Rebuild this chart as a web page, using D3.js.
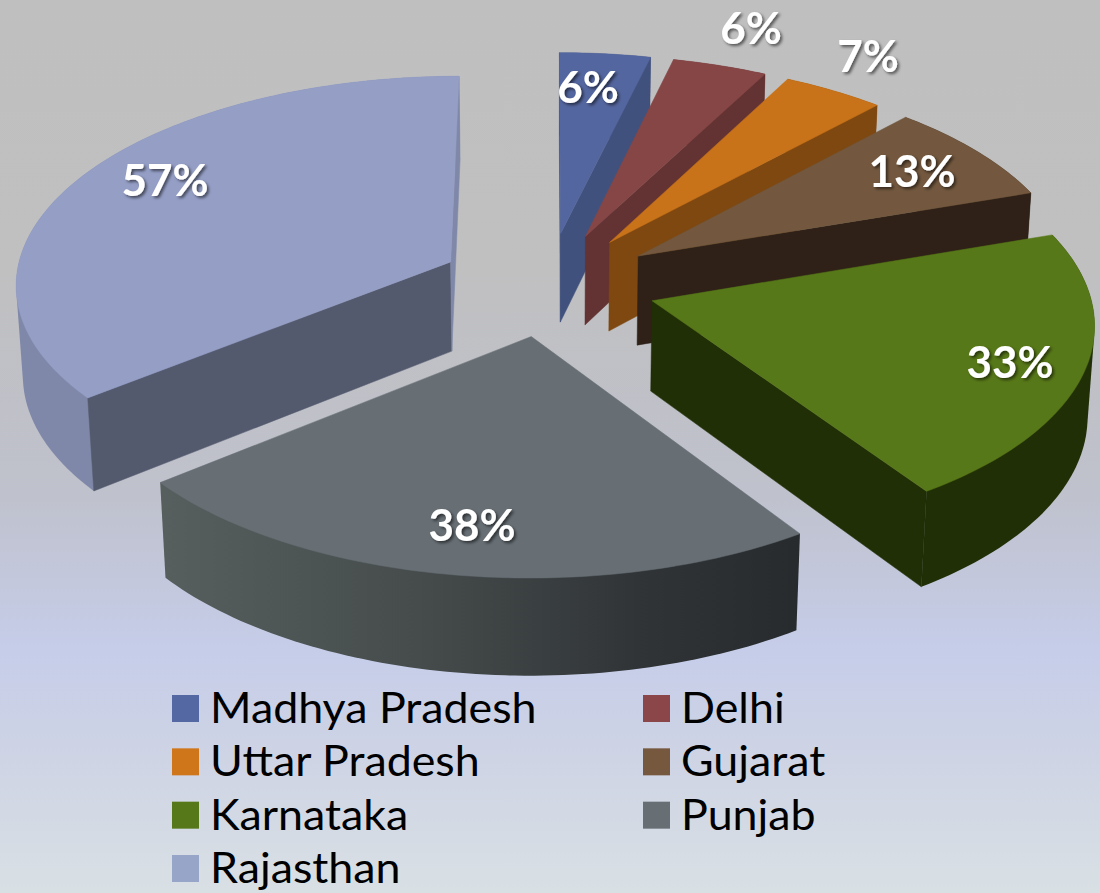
<!DOCTYPE html>
<html><head><meta charset="utf-8">
<script src="https://cdn.jsdelivr.net/npm/d3@7"></script>
<style>html,body{margin:0;padding:0;background:#fff}svg{display:block}text{font-family:Lato,sans-serif}</style>
</head><body><svg id="c" width="1100" height="893"></svg>
<script>
const categories=["Madhya Pradesh","Delhi","Uttar Pradesh","Gujarat","Karnataka","Punjab","Rajasthan"];
const values=[6,6.27,6.73,12.64,33.36,37.67,57.33];
const topColors=["#54669f","#864646","#c87219","#73583f","#577818","#676f75","#959fc6"];
const cutColors=["#41517d","#633232","#7e4810","#2f2117","#212f07","#3a3f42","#545a6e"];
const legendColors=["#5468a3","#8a4648","#cf761b","#75583e","#577818","#676f75","#97a5c8"];
const labelAnchors=[[588,87],[751,28],[868,56],[912,171],[1010,362],[472,525],[165,180]];

const W=1100,H=893,svg=d3.select("#c");
const defs=svg.append("defs");
const bg=defs.append("linearGradient").attr("id","bg").attr("x1",0).attr("y1",0).attr("x2",0).attr("y2",1);
[[0,"#bfbfbf"],[.3,"#c0c0c1"],[.55,"#bfc1cc"],[.73,"#c6cde9"],[.85,"#ced4e4"],[1,"#d9e0e4"]].forEach(s=>bg.append("stop").attr("offset",s[0]).attr("stop-color",s[1]));
svg.append("rect").attr("width",W).attr("height",H).attr("fill","url(#bg)");
const pg=defs.append("linearGradient").attr("id","wallP").attr("gradientUnits","userSpaceOnUse").attr("x1",165).attr("y1",0).attr("x2",796).attr("y2",0);
[[0,"#565e5e"],[.4,"#464c4c"],[.75,"#303437"],[1,"#272b2e"]].forEach(s=>pg.append("stop").attr("offset",s[0]).attr("stop-color",s[1]));
const f=defs.append("filter").attr("id","sh").attr("x","-20%").attr("y","-20%").attr("width","140%").attr("height","140%");
f.append("feDropShadow").attr("dx",2).attr("dy",2).attr("stdDeviation",1.4).attr("flood-color","#000").attr("flood-opacity",.55);

// perspective projection of the exploded pie
const cx=548,cy=284,R=436,explode=109,k=.476,depth=91,pa=.00022,pb=.00014;
function proj(X,Y,Z){const s=1/(1-pa*Y+pb*Z);return [cx+s*X,cy+s*(k*Y+Z)];}
const pie=d3.pie().sort(null).value(d=>d).startAngle(0).endAngle(2*Math.PI);
const arcs=pie(values);
const color=d3.scaleOrdinal().domain(categories).range(topColors);
const line=d3.line();
const g=svg.append("g");
arcs.forEach((a,i)=>{
  const mid=(a.startAngle+a.endAngle)/2;
  const ax=explode*Math.sin(mid), ay=-explode*Math.cos(mid);
  const rim=t=>[ax+R*Math.sin(t),ay-R*Math.cos(t)];
  const n=Math.max(8,Math.ceil((a.endAngle-a.startAngle)/0.02));
  const ts=d3.range(n+1).map(j=>a.startAngle+(a.endAngle-a.startAngle)*j/n);
  const pts=ts.map(rim);
  const apexT=proj(ax,ay,0),apexB=proj(ax,ay,depth);
  const topRim=pts.map(p=>proj(p[0],p[1],0)),botRim=pts.map(p=>proj(p[0],p[1],depth));
  const face=(poly,fill)=>g.append("path").attr("d",line(poly)+"Z").attr("fill",fill).attr("stroke",fill).attr("stroke-width",.5);
  const lastI=pts.length-1;
  const isRaj=categories[i]==="Rajasthan",isPun=categories[i]==="Punjab";
  // outer wall, then only the cut faces that look at the viewer, then the top
  const hull=d3.polygonHull(topRim.concat(botRim));
  const wallFill=isPun?"url(#wallP)":isRaj?"#7f88a8":cutColors[i];
  g.append("path").attr("d",line(hull)+"Z").attr("fill",wallFill);
  const cross=p=>(p[0]-apexT[0])*(apexB[1]-apexT[1])-(p[1]-apexT[1])*(apexB[0]-apexT[0]);
  if(cross(topRim[0])<0) face([apexT,topRim[0],botRim[0],apexB],cutColors[i]);
  if(cross(topRim[lastI])>0) face([apexT,topRim[lastI],botRim[lastI],apexB],isRaj?"#7f88a8":cutColors[i]);
  face([apexT].concat(topRim),color(categories[i]));
});
// data labels
const pct=d3.format(".0f");
svg.append("g").selectAll("text").data(values).join("text")
  .attr("x",(d,i)=>labelAnchors[i][0]).attr("y",(d,i)=>labelAnchors[i][1]+16)
  .attr("text-anchor","middle").attr("font-size",44).attr("font-weight",700)
  .attr("fill","#fff").attr("filter","url(#sh)").text(d=>pct(d)+"%");
// legend
const colX=d3.scaleOrdinal().domain([0,1]).range([172,643]);
const rowY=d3.scaleLinear().domain([0,3]).range([695,855]);
const leg=svg.append("g").selectAll("g").data(categories).join("g")
  .attr("transform",(d,i)=>`translate(${colX(i%2===1?1:0)},${rowY(Math.floor(i/2))})`);
leg.append("rect").attr("width",27).attr("height",27).attr("fill",(d,i)=>legendColors[i]);
leg.append("text").attr("transform","translate(38,28) scale(1.066,1)").attr("font-size",42).attr("fill","#000").text(d=>d);
</script></body></html>
